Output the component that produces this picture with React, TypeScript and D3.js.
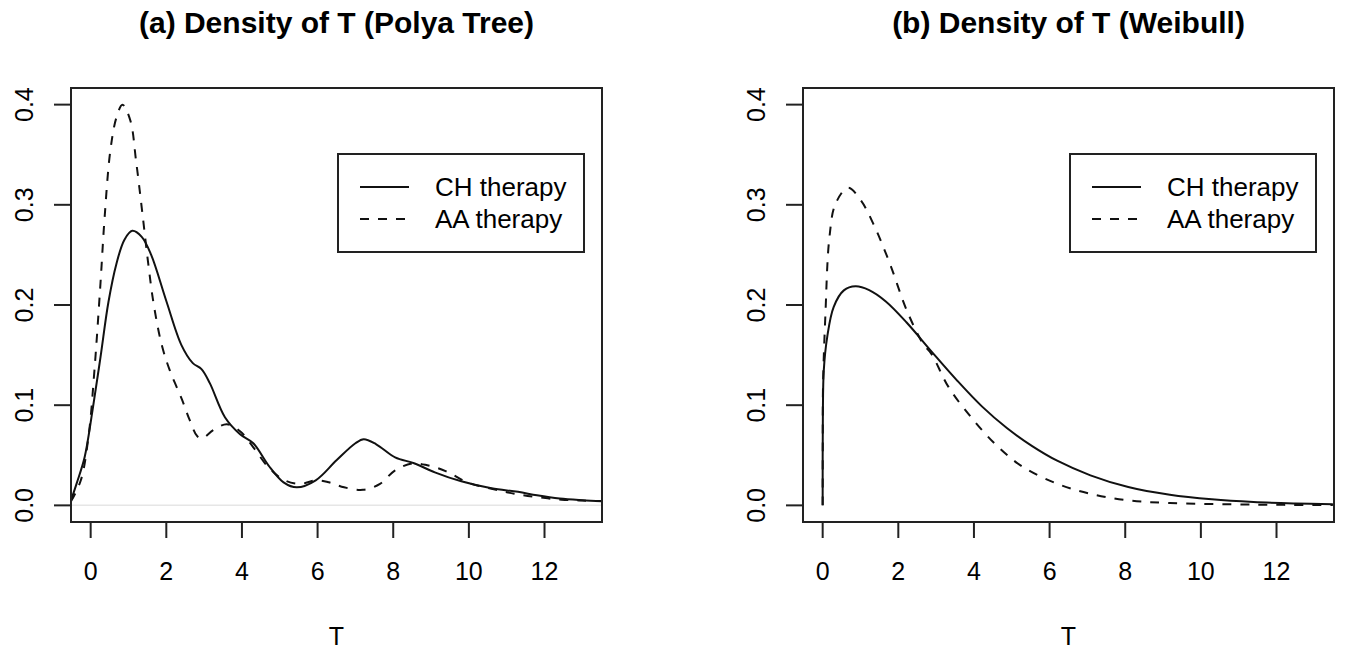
import React from 'react';
import * as d3 from 'd3';

const W = 1345;
const H = 651;

// panel (a): Polya tree density estimates
const polyaChT = [-0.52, -0.37, -0.16, 0.05, 0.26, 0.47, 0.68, 0.89, 1.1, 1.35, 1.6, 2.0, 2.4, 2.7, 2.93, 3.15, 3.55, 3.95, 4.3, 4.7, 5.1, 5.45, 5.95, 6.5, 7.0, 7.22, 7.55, 8.05, 8.55, 9.1, 9.8, 10.6, 11.3, 11.8, 12.4, 13.0, 13.52];
const polyaChV = [0.005, 0.022, 0.048, 0.095, 0.148, 0.203, 0.241, 0.265, 0.274, 0.268, 0.25, 0.204, 0.16, 0.142, 0.136, 0.122, 0.088, 0.071, 0.062, 0.04, 0.023, 0.018, 0.025, 0.045, 0.062, 0.066, 0.061, 0.048, 0.042, 0.033, 0.024, 0.017, 0.0135, 0.01, 0.0068, 0.0052, 0.0043];
const polyaAaT = [-0.52, -0.26, -0.05, 0.1, 0.26, 0.37, 0.52, 0.68, 0.84, 1.05, 1.2, 1.36, 1.52, 1.67, 1.88, 2.09, 2.41, 2.62, 2.82, 2.95, 3.24, 3.6, 3.95, 4.3, 4.7, 5.13, 5.55, 5.96, 6.3, 6.7, 7.2, 7.65, 8.05, 8.5, 8.9, 9.4, 9.95, 10.6, 11.2, 11.8, 12.45, 13.0, 13.52];
const polyaAaV = [0.004, 0.025, 0.071, 0.135, 0.222, 0.288, 0.354, 0.387, 0.4, 0.384, 0.344, 0.294, 0.242, 0.2, 0.16, 0.135, 0.106, 0.085, 0.069, 0.067, 0.075, 0.081, 0.074, 0.058, 0.038, 0.025, 0.0215, 0.025, 0.023, 0.018, 0.0155, 0.0215, 0.035, 0.0418, 0.04, 0.034, 0.023, 0.0165, 0.0117, 0.0083, 0.0057, 0.0048, 0.004];

// panel (b): Weibull densities
const weibChT = [0, 0.005, 0.03, 0.12, 0.29, 0.56, 0.87, 1.23, 1.67, 2.22, 2.88, 3.55, 4.21, 4.87, 5.54, 6.2, 7.08, 8.08, 9.18, 10.29, 11.39, 12.5, 13.49];
const weibChV = [0, 0.088, 0.135, 0.168, 0.198, 0.2146, 0.2186, 0.2148, 0.2035, 0.1825, 0.1535, 0.1248, 0.0988, 0.0772, 0.0592, 0.0446, 0.03, 0.0183, 0.0106, 0.006, 0.0033, 0.0019, 0.0012];
const weibAaT = [0, 0.002, 0.01, 0.07, 0.18, 0.34, 0.67, 1.0, 1.34, 1.78, 2.22, 2.66, 2.88, 3.33, 3.99, 4.65, 5.31, 6.2, 7.08, 8.08, 9.18, 10.84, 12.2, 13.49];
const weibAaV = [0, 0.055, 0.12, 0.188, 0.268, 0.301, 0.317, 0.305, 0.281, 0.241, 0.195, 0.161, 0.151, 0.118, 0.085, 0.058, 0.038, 0.0216, 0.0116, 0.005, 0.0023, 0.001, 0.0005, 0.0003];

const xTicks = [0, 2, 4, 6, 8, 10, 12];
const yTicks = [0, 0.1, 0.2, 0.3, 0.4];
const legendLabels = ['CH therapy', 'AA therapy'];

const font = '"Liberation Sans", Arial, Helvetica, sans-serif';
const top = 88;
const bottom = 522;

const zip = (ts: number[], vs: number[]) => ts.map((t, i) => [t, vs[i]] as [number, number]);

function Panel({ title, left, right, ch, aa, zeroLine }: any) {
  const x = d3.scaleLinear().domain([-0.52, 13.52]).range([left, right]);
  const y = d3.scaleLinear().domain([-0.0166, 0.4166]).range([bottom, top]);
  const line = d3.line<[number, number]>()
    .x(d => x(d[0]))
    .y(d => y(d[1]))
    .curve(d3.curveCatmullRom.alpha(0.5));
  const cx = (left + right) / 2;
  const legL = right - 264;
  const legR = right - 18;

  return (
    <g>
      <text x={cx} y={33} textAnchor="middle" fontFamily={font} fontWeight="bold" fontSize={30}>{title}</text>
      <defs>
        <clipPath id={`clip${left}`}>
          <rect x={left} y={top} width={right - left} height={bottom - top} />
        </clipPath>
      </defs>
      {zeroLine && (
        <line x1={left} x2={right} y1={y(0)} y2={y(0)} stroke="#e6e6e6" strokeWidth={1.5} />
      )}
      <g clipPath={`url(#clip${left})`} fill="none" stroke="#111" strokeWidth={2}>
        <path d={line(ch) || ''} />
        <path d={line(aa) || ''} strokeDasharray="9,9" />
      </g>
      <rect x={left} y={top} width={right - left} height={bottom - top} fill="none" stroke="#222" strokeWidth={2} />
      {xTicks.map(t => (
        <g key={t}>
          <line x1={x(t)} x2={x(t)} y1={bottom} y2={bottom + 16} stroke="#222" strokeWidth={2} />
          <text x={x(t)} y={580} textAnchor="middle" fontFamily={font} fontSize={25}>{t}</text>
        </g>
      ))}
      {yTicks.map(v => (
        <g key={v}>
          <line x1={left - 17} x2={left} y1={y(v)} y2={y(v)} stroke="#222" strokeWidth={2} />
          <text transform={`translate(${left - 38},${y(v)}) rotate(-90)`} textAnchor="middle" fontFamily={font} fontSize={25}>{v.toFixed(1)}</text>
        </g>
      ))}
      <text x={cx} y={645} textAnchor="middle" fontFamily={font} fontSize={25}>T</text>
      <rect x={legL} y={154} width={legR - legL} height={98} fill="white" stroke="#222" strokeWidth={2} />
      {legendLabels.map((lab, i) => (
        <g key={lab}>
          <line x1={legL + 22} x2={legL + 71} y1={187 + i * 32} y2={187 + i * 32} stroke="#111" strokeWidth={2} strokeDasharray={i === 1 ? '9,9' : undefined} />
          <text x={legL + 97} y={196 + i * 32} fontFamily={font} fontSize={26}>{lab}</text>
        </g>
      ))}
    </g>
  );
}

export default function App() {
  return (
    <svg width={W} height={H} viewBox={`0 0 ${W} ${H}`} style={{ position: 'absolute', left: 0, top: 0, background: 'white' }}>
      <Panel title="(a) Density of T (Polya Tree)" left={71} right={602} ch={zip(polyaChT, polyaChV)} aa={zip(polyaAaT, polyaAaV)} zeroLine />
      <Panel title="(b) Density of T (Weibull)" left={803} right={1334} ch={zip(weibChT, weibChV)} aa={zip(weibAaT, weibAaV)} />
    </svg>
  );
}
